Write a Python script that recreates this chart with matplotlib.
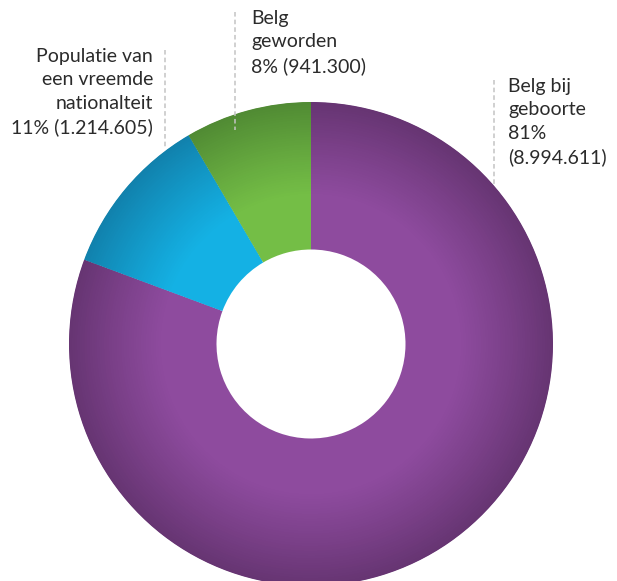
import matplotlib

matplotlib.use("Agg")
import matplotlib.pyplot as plt
import numpy as np
from matplotlib.colors import to_rgb

# data (population counts, drawn clockwise from 12 o'clock)
categories = ["Belg bij geboorte", "Populatie van een vreemde nationalteit", "Belg geworden"]
counts = [8994611, 1214605, 941300]
labels = [
    "Belg bij\ngeboorte\n81%\n(8.994.611)",
    "Populatie van\neen vreemde\nnationalteit\n11% (1.214.605)",
    "Belg\ngeworden\n8% (941.300)",
]
light = ["#8e4b9e", "#14b1e4", "#74be46"]
dark = ["#653471", "#1180ab", "#4f8933"]

W, H = 617, 581
cx, cy = 311, H - 344
r_out, r_in = 242, 94.5


def ring_color(c_light, c_dark, t):
    # light on the inner part of the ring, darkening towards the rim
    k = 0.0 if t < 0.35 else ((t - 0.35) / 0.65) ** 1.1
    a, b = np.array(to_rgb(c_light)), np.array(to_rgb(c_dark))
    return tuple(a + (b - a) * k)


fig = plt.figure(figsize=(W / 100, H / 100), dpi=100)
ax = fig.add_axes([0, 0, 1, 1])

n_rings = 60
edges = np.linspace(r_in, r_out, n_rings + 1)
# outermost ring first, each next one drawn on top and reaching outwards a bit
for i in range(n_rings - 1, -1, -1):
    r0, r1 = edges[i], edges[i + 1]
    t = (0.5 * (r0 + r1) - r_in) / (r_out - r_in)
    cols = [ring_color(l, d, t) for l, d in zip(light, dark)]
    extra = 0 if i == n_rings - 1 else 2.0
    ax.pie(
        counts,
        colors=cols,
        startangle=90,
        counterclock=False,
        radius=r1 + extra,
        center=(cx, cy),
        wedgeprops=dict(width=r1 - r0 + extra, linewidth=0),
        frame=True,
    )

# dashed leader lines
leaders = [(494, 80, 185), (165, 50, 147), (235, 12, 130)]
for x, y0, y1 in leaders:
    ax.plot([x, x], [H - y0, H - y1], color="#c4c4c4", lw=1.1, ls=(0, (3, 2)))

txt = dict(fontsize=14, color="#2b2b2b", family="Lato", linespacing=1.45, va="top")
ax.text(508, H - 78, labels[0], ha="left", **txt)
ax.text(153, H - 48, labels[1], ha="right", multialignment="right", **txt)
ax.text(251, H - 10, labels[2], ha="left", **txt)

ax.set_xlim(0, W)
ax.set_ylim(0, H)
ax.set_aspect("auto")
ax.axis("off")
fig.savefig("out.png", dpi=100)
